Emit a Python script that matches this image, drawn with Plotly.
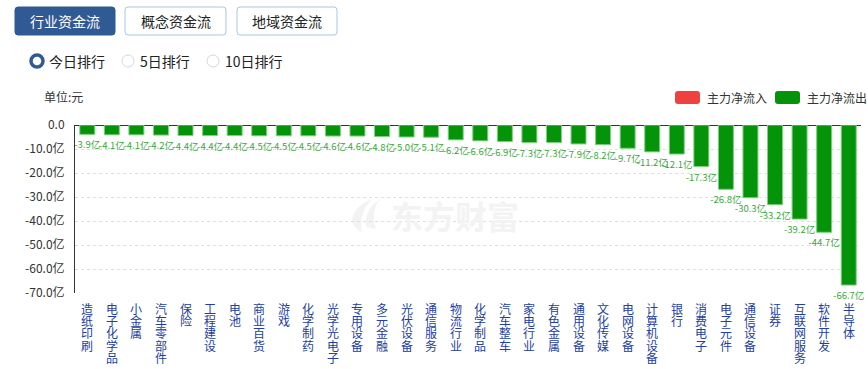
import plotly.graph_objects as go

categories = ["造纸印刷", "电子化学品", "小金属", "汽车零部件", "保险", "工程建设", "电池", "商业百货",
              "游戏", "化学制药", "光学光电子", "专用设备", "多元金融", "光伏设备", "通信服务", "物流行业",
              "化学制品", "汽车整车", "家电行业", "有色金属", "通用设备", "文化传媒", "电网设备", "计算机设备",
              "银行", "消费电子", "电子元件", "通信设备", "证券", "互联网服务", "软件开发", "半导体"]
values = [-3.9, -4.1, -4.1, -4.2, -4.4, -4.4, -4.4, -4.5, -4.5, -4.5, -4.6, -4.6, -4.8, -5.0, -5.1, -6.2,
          -6.6, -6.9, -7.3, -7.3, -7.9, -8.2, -9.7, -11.2, -12.1, -17.3, -26.8, -30.3, -33.2, -39.2, -44.7, -66.7]
y_ticks = [0, -10, -20, -30, -40, -50, -60, -70]
y_tick_text = ["0.0", "-10.0亿", "-20.0亿", "-30.0亿", "-40.0亿", "-50.0亿", "-60.0亿", "-70.0亿"]
tabs = ["行业资金流", "概念资金流", "地域资金流"]
radios = ["今日排行", "5日排行", "10日排行"]
legend_names = ["主力净流入", "主力净流出"]
unit_label = "单位:元"
watermark = "东方财富"

W, H = 868, 369
L, R, T, B = 75, 861, 125, 293
FONT = "Noto Sans CJK SC"
GREEN = "#05930a"
BLUE = "#2f5a94"


def px(x):
    return (x - L) / (R - L)


def py(y):
    return (B - y) / (B - T)


def rrect(x0, y0, x1, y1, r):
    X = lambda v: px(v)
    Y = lambda v: py(v)
    return (f"M {X(x0+r)} {Y(y0)} L {X(x1-r)} {Y(y0)} Q {X(x1)} {Y(y0)} {X(x1)} {Y(y0+r)} "
            f"L {X(x1)} {Y(y1-r)} Q {X(x1)} {Y(y1)} {X(x1-r)} {Y(y1)} L {X(x0+r)} {Y(y1)} "
            f"Q {X(x0)} {Y(y1)} {X(x0)} {Y(y1-r)} L {X(x0)} {Y(y0+r)} Q {X(x0)} {Y(y0)} {X(x0+r)} {Y(y0)} Z")


fig = go.Figure()
fig.add_trace(go.Bar(
    x=categories, y=values,
    marker=dict(color=GREEN, line=dict(color="#7fd07f", width=1)),
    text=[f"{v:.1f}亿" for v in values],
    textposition="outside", constraintext="none", cliponaxis=False,
    textfont=dict(family=FONT, size=9.5, color="#3aa83a"),
    hoverinfo="skip", showlegend=False,
))

shapes = []
annotations = []

# Watermark logo (faint swoosh) and text
shapes.append(dict(type="path", xref="paper", yref="paper", layer="below",
                   path=(f"M {px(372)} {py(199)} Q {px(352)} {py(207)} {px(352)} {py(222)} "
                         f"Q {px(356)} {py(230)} {px(362)} {py(232)} Q {px(358)} {py(214)} {px(372)} {py(199)} Z "
                         f"M {px(380)} {py(199)} Q {px(364)} {py(210)} {px(366)} {py(226)} "
                         f"Q {px(372)} {py(230)} {px(376)} {py(228)} Q {px(370)} {py(212)} {px(380)} {py(199)} Z"),
                   fillcolor="#f3f3f3", line=dict(width=0)))
annotations.append(dict(x=px(455), y=py(215), xref="paper", yref="paper", text=f"<b>{watermark}</b>",
                        showarrow=False, xanchor="center", yanchor="middle",
                        font=dict(family=FONT, size=32, color="#f3f3f3")))

# Vertical category labels (one character per line)
for cat in categories:
    for j, ch in enumerate(cat):
        annotations.append(dict(x=cat, xref="x", y=0, yref="paper", yanchor="top", yshift=-5 - 12.2 * j,
                                text=ch, showarrow=False,
                                font=dict(family=FONT, size=12, color="#24409a")))

# Tabs
tab_x = [(15, 115), (125, 226), (237, 337)]
for i, (name, (x0, x1)) in enumerate(zip(tabs, tab_x)):
    sel = i == 0
    shapes.append(dict(type="path", path=rrect(x0, 7, x1, 35, 3), xref="paper", yref="paper",
                       fillcolor=BLUE if sel else "white",
                       line=dict(color=BLUE if sel else "#a9c6e6", width=1)))
    annotations.append(dict(x=px((x0 + x1) / 2), y=py(21), xref="paper", yref="paper",
                            text=name, showarrow=False, xanchor="center", yanchor="middle",
                            font=dict(family=FONT, size=14, color="white" if sel else "#222")))

# Radios
radio_cx = [37, 128, 213]
for i, (name, cx) in enumerate(zip(radios, radio_cx)):
    sel = i == 0
    r = 6
    shapes.append(dict(type="circle", xref="paper", yref="paper",
                       x0=px(cx - r), x1=px(cx + r), y0=py(61 + r), y1=py(61 - r),
                       fillcolor="white",
                       line=dict(color=BLUE if sel else "#cfd8e3", width=3.5 if sel else 1)))
    annotations.append(dict(x=px(cx + 10), y=py(61), xref="paper", yref="paper",
                            text=name, showarrow=False, xanchor="left", yanchor="middle",
                            font=dict(family=FONT, size=14, color="#222")))

# Unit label
annotations.append(dict(x=px(42), y=py(97), xref="paper", yref="paper", text=unit_label,
                        showarrow=False, xanchor="left", yanchor="middle",
                        font=dict(family=FONT, size=12, color="#333")))

# Legend
leg_colors = ["#f04040", GREEN]
leg_x = [675, 775]
for name, c, lx in zip(legend_names, leg_colors, leg_x):
    shapes.append(dict(type="path", path=rrect(lx, 91, lx + 25, 104, 3), xref="paper", yref="paper",
                       fillcolor=c, line=dict(width=0)))
    annotations.append(dict(x=px(lx + 30), y=py(97.5), xref="paper", yref="paper", text=name,
                            showarrow=False, xanchor="left", yanchor="middle",
                            font=dict(family=FONT, size=12, color="#333")))

fig.update_layout(
    width=W, height=H,
    margin=dict(l=L, r=W - R, t=T, b=H - B, pad=0),
    paper_bgcolor="white", plot_bgcolor="white",
    bargap=0.39,
    shapes=shapes, annotations=annotations,
    xaxis=dict(showticklabels=False, showgrid=False, showline=False, zeroline=False,
               range=[-0.5, len(categories) - 0.5], fixedrange=True),
    yaxis=dict(range=[-70, 0], tickvals=y_ticks, ticktext=y_tick_text,
               showgrid=True, gridcolor="#e0e0e0", griddash="3px,3px", gridwidth=1,
               showline=True, linecolor="#333", linewidth=1,
               zeroline=True, zerolinecolor="#333", zerolinewidth=1,
               ticks="", ticklabelstandoff=7,
               tickfont=dict(family=FONT, size=12, color="#333")),
    font=dict(family=FONT),
)

fig.write_html("out.html", config={"displayModeBar": False, "staticPlot": True},
               post_script="document.body.style.margin='0';document.body.style.overflow='hidden';")
